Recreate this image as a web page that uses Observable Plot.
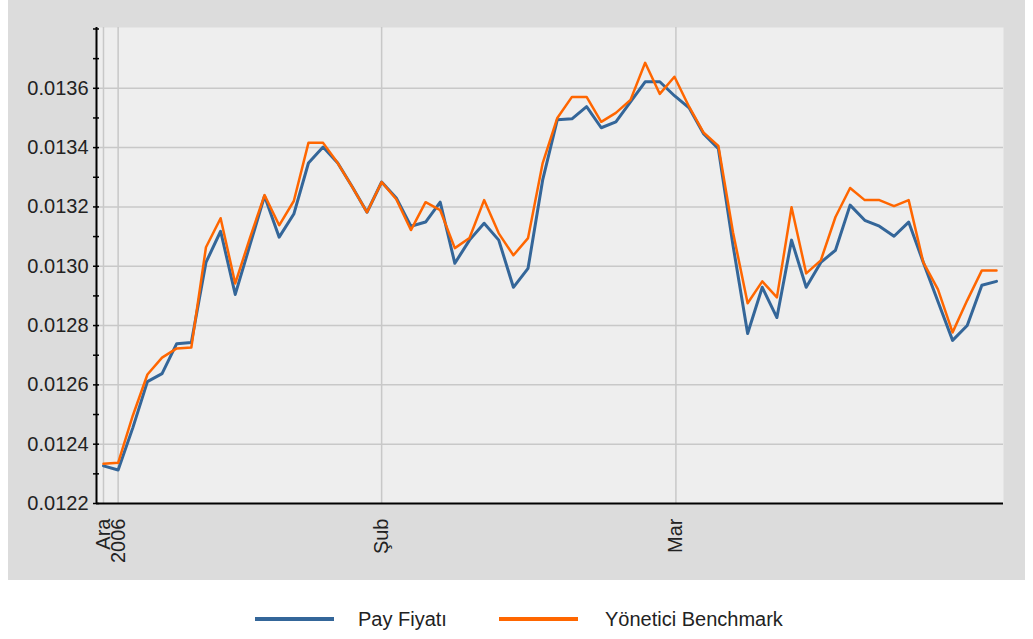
<!DOCTYPE html>
<html><head><meta charset="utf-8">
<script src="https://cdn.jsdelivr.net/npm/d3@7"></script>
<script src="https://cdn.jsdelivr.net/npm/@observablehq/plot@0.6"></script>
<style>
body{margin:0;background:#fff;font-family:"Liberation Sans",Arial,sans-serif;}
#wrap{position:relative;width:1033px;height:639px;overflow:hidden;}
#panel{position:absolute;left:8px;top:0;width:1017px;height:580px;background:#dcdcdc;}
.sw{position:absolute;height:4px;}
.lt{position:absolute;font-size:20px;line-height:24px;color:#222;white-space:nowrap;}
</style></head><body>
<div id="wrap"><div id="panel"></div><div id="legend"></div></div>
<script>
// Series values (index = trading day from late Dec 2006 to end of Mar 2007)
const payFiyati = [0.012327,0.012313,0.012455,0.012611,0.012638,0.012739,0.012743,0.013013,0.013118,0.012905,
0.013071,0.013237,0.013098,0.013176,0.013348,0.013402,0.013348,0.013267,0.013182,0.013284,
0.013230,0.013135,0.013149,0.013216,0.013010,0.013088,0.013145,0.013088,0.012929,0.012993,
0.013291,0.013494,0.013497,0.013538,0.013467,0.013487,0.013554,0.013622,0.013622,0.013575,
0.013534,0.013446,0.013396,0.013071,0.012773,0.012929,0.012827,0.013088,0.012929,0.013013,
0.013054,0.013206,0.013155,0.013135,0.013101,0.013149,0.013013,0.012881,0.012750,0.012800,
0.012936,0.012949];
const yoneticiBenchmark = [0.012334,0.012337,0.012496,0.012635,0.012692,0.012723,0.012726,0.013064,0.013162,0.012942,
0.013095,0.013240,0.013138,0.013220,0.013416,0.013416,0.013348,0.013267,0.013182,0.013284,
0.013226,0.013122,0.013216,0.013189,0.013061,0.013095,0.013223,0.013111,0.013037,0.013095,
0.013348,0.013500,0.013571,0.013571,0.013487,0.013517,0.013561,0.013686,0.013581,0.013639,
0.013538,0.013450,0.013406,0.013115,0.012875,0.012949,0.012895,0.013199,0.012976,0.013020,
0.013166,0.013264,0.013223,0.013223,0.013203,0.013223,0.013013,0.012922,0.012777,0.012885,
0.012986,0.012986];
const seriesNames = ["Pay Fiyatı", "Yönetici Benchmark"];
const seriesColors = ["#346699", "#ff6600"];
const yTicks = [0.0122,0.0124,0.0126,0.0128,0.0130,0.0132,0.0134,0.0136];
const yMinorTicks = [0.0122,0.0123,0.0124,0.0125,0.0126,0.0127,0.0128,0.0129,0.0130,0.0131,0.0132,0.0133,0.0134,0.0135,0.0136,0.0137,0.0138];
const xGridPos = [0, 1, 19, 39.1];
const xTickLabels = ["Ara", "2006", "Şub", "Mar"];
const xTickPos = [0, 1, 19, 39.1];

const pay = payFiyati.map((v, i) => ({i, v}));
const bench = yoneticiBenchmark.map((v, i) => ({i, v}));
const xLabels = xTickLabels.map((t, k) => ({t, x: xTickPos[k]}));
const xMin = -0.478, xMax = 61.478, yMin = 0.0122, yMax = 0.013805;

const chart = Plot.plot({
  width: 1017, height: 580,
  marginLeft: 88, marginRight: 22, marginTop: 27, marginBottom: 77,
  style: {background: "transparent", fontFamily: "'Liberation Sans', Arial, sans-serif", fontSize: "20px", color: "#222", overflow: "visible"},
  x: {domain: [xMin, xMax], axis: null, label: null},
  y: {domain: [yMin, yMax], axis: null, label: null},
  marks: [
    Plot.frame({fill: "#eeeeee", stroke: "none"}),
    Plot.ruleY(yTicks.slice(1), {stroke: "#c8c8c8", strokeWidth: 1.5}),
    Plot.ruleX(xGridPos, {stroke: "#c8c8c8", strokeWidth: 1.5}),
    Plot.line(pay, {x: "i", y: "v", stroke: seriesColors[0], strokeWidth: 3}),
    Plot.line(bench, {x: "i", y: "v", stroke: seriesColors[1], strokeWidth: 2.5}),
    Plot.ruleX([xMin], {stroke: "#000", strokeWidth: 2}),
    Plot.ruleY([yMin], {stroke: "#000", strokeWidth: 2}),
    Plot.axisY({ticks: yMinorTicks, tickSize: 6, dx: 3, tickFormat: () => "", label: null, stroke: "#000", strokeWidth: 1.5}),
    Plot.axisY({ticks: yTicks, tickSize: 0, tickPadding: 8, tickFormat: d => d.toFixed(4), label: null, fontSize: 20, fill: "#222"}),
    Plot.text(xLabels, {x: "x", frameAnchor: "bottom", text: "t", rotate: -90, textAnchor: "end", lineAnchor: "middle", dy: 15, fontSize: 20, fill: "#222"})
  ]
});
chart.style.position = "absolute";
chart.style.left = "0px";
chart.style.top = "0px";
document.getElementById("panel").appendChild(chart);

const legend = document.getElementById("legend");
const legendPos = [{sw: 255, tx: 358}, {sw: 499, tx: 605}];
seriesNames.forEach((name, k) => {
  const s = document.createElement("div");
  s.className = "sw";
  s.style.left = legendPos[k].sw + "px";
  s.style.width = "79px";
  s.style.top = "617px";
  s.style.background = seriesColors[k];
  legend.appendChild(s);
  const t = document.createElement("div");
  t.className = "lt";
  t.style.left = legendPos[k].tx + "px";
  t.style.top = "607px";
  t.textContent = name;
  legend.appendChild(t);
});
</script>
</body></html>
